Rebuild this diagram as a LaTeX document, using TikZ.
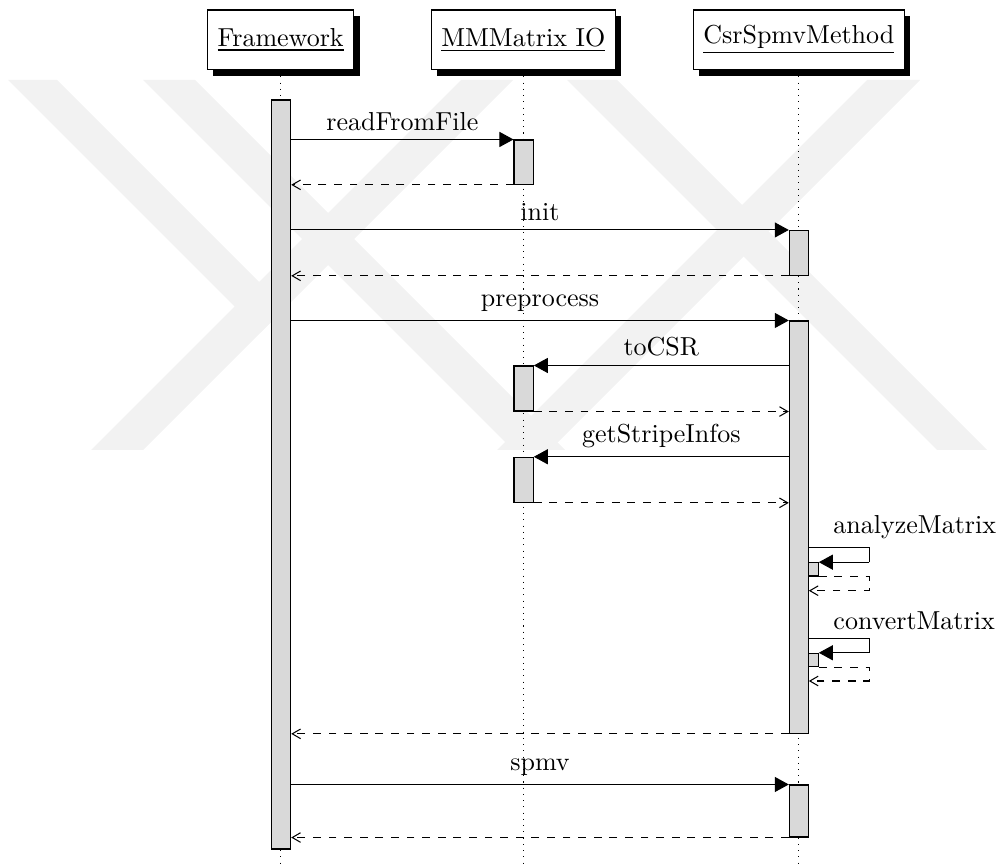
\documentclass[tikz,border=0pt]{standalone}
\usetikzlibrary{arrows.meta,shadows,fit}
\definecolor{barfill}{gray}{0.85}
\definecolor{markgray}{gray}{0.95}
\begin{document}
\begin{tikzpicture}[x=0.3846pt, y=-0.3846pt,
  inst/.style={draw, fill=white, line width=0.4pt, minimum height=22.9pt,
    inner xsep=3.9pt, font=\fontsize{10}{12}\selectfont,
    drop shadow={shadow xshift=2.3pt, shadow yshift=-2.3pt, fill=black, opacity=1}},
  life/.style={dotted, line width=0.4pt},
  bar/.style={draw, fill=barfill, line width=0.4pt, inner sep=0pt},
  call/.style={line width=0.4pt, -{Triangle[length=5.4pt,width=5.8pt]}},
  ret/.style={line width=0.4pt, dashed, -{Straight Barb[length=3.2pt,width=3.7pt]}},
  lbl/.style={font=\fontsize{10}{12}\selectfont, inner sep=3.33pt}
]
\useasboundingbox (0,0) rectangle (1004,865);

% faint background emblem
\begin{scope}
  \clip (0,80) rectangle (1004,450);
  \fill[markgray] (8,80) -- (57,80) -- (285,308) -- (260.5,332.5) -- cycle;
  \fill[markgray] (461,80) -- (513,80) -- (143,450) -- (91,450) -- cycle;
  \fill[markgray] (143,80) -- (195,80) -- (565,450) -- (513,450) -- cycle;
  \fill[markgray] (867,80) -- (920,80) -- (550,450) -- (497,450) -- cycle;
  \fill[markgray] (567,80) -- (617,80) -- (987,450) -- (937,450) -- cycle;
\end{scope}

% instances
\node[inst] (fw)  at (280.6,39.8) {\underline{Framework}};
\node[inst] (mm)  at (523.3,39.8) {\underline{MMMatrix IO}};
\node[inst] (csr) at (798.8,39.8) {\underline{CsrSpmvMethod}};

% lifelines
\coordinate (bottom) at (0,865);
\draw[life] (fw.south)  -- (fw.south |- bottom);
\draw[life] (mm.south)  -- (mm.south |- bottom);
\draw[life] (csr.south) -- (csr.south |- bottom);

% activation bars
\node[bar, fit={(271.7,100) (290.7,849)}]     (fwbar) {};
\node[bar, fit={(514,140) (533.3,184.3)}]     (mm1) {};
\node[bar, fit={(789.3,230.5) (808.3,275.3)}] (csr1) {};
\node[bar, fit={(789.3,321) (808.3,733.3)}]   (csr2) {};
\node[bar, fit={(514,366) (533.3,411)}]       (mm2) {};
\node[bar, fit={(514,457.3) (533.3,502.3)}]   (mm3) {};
\node[bar, fit={(808.3,562.7) (818.3,576)}]   (s1) {};
\node[bar, fit={(808.3,653.3) (818.3,666.7)}] (s2) {};
\node[bar, fit={(789.3,785) (808.3,837)}]     (csr3) {};

% readFromFile
\draw[call] (fwbar.east |- mm1.north) -- node[lbl, above] (t1) {readFromFile} (mm1.north west);
\draw[ret] (mm1.south west) -- (fwbar.east |- mm1.south);

% init
\draw[call] (fwbar.east |- csr1.north) -- node[lbl, above] (t2) {init} (csr1.north west);
\draw[ret] (csr1.south west) -- (fwbar.east |- csr1.south);

% preprocess
\draw[call] (fwbar.east |- csr2.north) -- node[lbl, above] (t3) {preprocess} (csr2.north west);

% toCSR
\draw[call] (csr2.west |- mm2.north) -- node[lbl, above] (t4) {toCSR} (mm2.north east);
\draw[ret] (mm2.south east) -- (csr2.west |- mm2.south);

% getStripeInfos
\draw[call] (csr2.west |- mm3.north) -- node[lbl, above] (t5) {getStripeInfos} (mm3.north east);
\draw[ret] (mm3.south east) -- (csr2.west |- mm3.south);

% analyzeMatrix (self call)
\coordinate (a1) at (869.3,547.7);
\coordinate (r1) at (869.3,590.7);
\draw[line width=0.4pt] (csr2.east |- a1) -- (a1) -- (a1 |- s1.north);
\draw[call] (a1 |- s1.north) -- (s1.north east);
\draw[ret] (s1.south east) -- (s1.south east -| r1) -- (r1) -- (csr2.east |- r1);
\node[lbl, anchor=south west] (t6) at (824.3,547.7) {analyzeMatrix};

% convertMatrix (self call)
\coordinate (a2) at (869.3,638.7);
\coordinate (r2) at (869.3,681);
\draw[line width=0.4pt] (csr2.east |- a2) -- (a2) -- (a2 |- s2.north);
\draw[call] (a2 |- s2.north) -- (s2.north east);
\draw[ret] (s2.south east) -- (s2.south east -| r2) -- (r2) -- (csr2.east |- r2);
\node[lbl, anchor=south west] (t7) at (824.3,638.7) {convertMatrix};

% return of preprocess
\draw[ret] (csr2.south west) -- (fwbar.east |- csr2.south);

% spmv
\draw[call] (fwbar.east |- csr3.north) -- node[lbl, above] (t8) {spmv} (csr3.north west);
\draw[ret] (csr3.south west) -- (fwbar.east |- csr3.south);
\end{tikzpicture}
\end{document}
